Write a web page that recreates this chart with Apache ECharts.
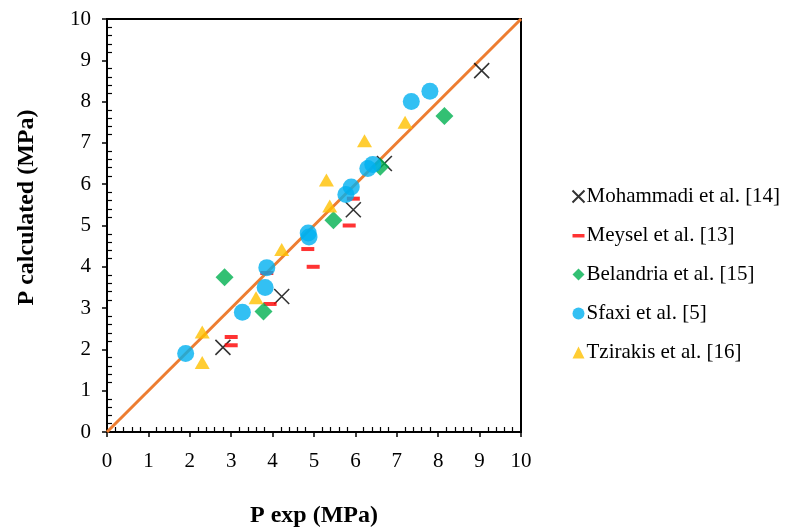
<!DOCTYPE html>
<html lang="en">
<head>
  <meta charset="UTF-8">
  <title>P calculated vs P exp</title>
  <script src="https://cdn.jsdelivr.net/npm/echarts@6.0.0/dist/echarts.min.js"></script>
  <style>
    html, body { margin: 0; padding: 0; background: #fff; }
    #chart { width: 794px; height: 528px; }
  </style>
</head>
<body>
  <div id="chart"></div>
  <script>
    // values: [P exp, P calculated]
    const mohammadi = [[2.8, 2.05], [4.22, 3.28], [5.95, 5.38], [6.7, 6.5], [9.05, 8.75]];
    const meysel = [[3.0, 2.3], [3.0, 2.1], [3.94, 3.1], [3.86, 3.85], [4.85, 4.43], [4.98, 4.0], [5.85, 5.0], [5.95, 5.65]];
    const belandria = [[2.84, 3.75], [3.78, 2.92], [5.47, 5.13], [6.6, 6.42], [8.15, 7.65]];
    const sfaxi = [[1.9, 1.9], [3.27, 2.9], [3.82, 3.5], [3.86, 3.98], [4.86, 4.82], [4.88, 4.72], [5.77, 5.75],
      [5.9, 5.93], [6.3, 6.38], [6.42, 6.48], [7.35, 8.0], [7.8, 8.25]];
    const tzirakis = [[2.3, 2.42], [2.3, 1.68], [3.6, 3.25], [4.22, 4.42], [5.38, 5.47], [5.3, 6.1], [6.22, 7.05], [7.2, 7.5]];
    const parityLine = [[0, 0], [10, 10]];

    const font = "'Liberation Serif', 'Times New Roman', serif";
    const crossPath = 'path://M0,0L10,10M10,0L0,10';
    // thin dash inside a square box so the legend icon is not stretched
    const dashIcon = 'path://M0,0M0,12M0,4.5h12v3.5h-12z';

    const axisCommon = {
      min: 0,
      max: 10,
      interval: 1,
      nameLocation: 'middle',
      nameTextStyle: { fontFamily: font, fontSize: 24, fontWeight: 'bold', color: '#000' },
      axisLine: { onZero: false, lineStyle: { color: '#000', width: 2 } },
      axisTick: { show: true, inside: false, length: 5, lineStyle: { color: '#000', width: 1.5 } },
      minorTick: { show: true, splitNumber: 5, length: -5, lineStyle: { color: '#000', width: 1.2 } },
      axisLabel: { fontFamily: font, fontSize: 21, color: '#000', margin: 19 },
      splitLine: { show: false }
    };

    const chart = echarts.init(document.getElementById('chart'));
    chart.setOption({
      animation: false,
      backgroundColor: '#fff',
      grid: {
        left: 107, right: 273, top: 19, bottom: 96,
        outerBoundsMode: 'none',
        show: true, borderColor: '#000', borderWidth: 2
      },
      legend: {
        orient: 'vertical',
        left: 565,
        top: 181,
        itemWidth: 12,
        itemHeight: 12,
        itemGap: 18,
        textStyle: { fontFamily: font, fontSize: 21, color: '#000', padding: [0, 0, 0, -3] },
        data: [
          'Mohammadi et al. [14]',
          { name: 'Meysel et al. [13]', icon: dashIcon },
          'Belandria et al. [15]',
          'Sfaxi et al. [5]',
          'Tzirakis et al. [16]'
        ]
      },
      xAxis: Object.assign({}, axisCommon, {
        type: 'value',
        name: 'P exp (MPa)',
        nameGap: 72
      }),
      yAxis: Object.assign({}, axisCommon, {
        type: 'value',
        name: 'P calculated (MPa)',
        nameGap: 68,
        axisLabel: Object.assign({}, axisCommon.axisLabel, { margin: 16 }),
        nameTextStyle: Object.assign({}, axisCommon.nameTextStyle, { padding: [0, 0, 0, 36] })
      }),
      series: [
        {
          type: 'line',
          data: parityLine,
          symbol: 'none',
          lineStyle: { color: '#ED7D31', width: 3 },
          silent: true,
          z: 1
        },
        {
          name: 'Mohammadi et al. [14]',
          type: 'scatter',
          data: mohammadi,
          symbol: crossPath,
          symbolSize: 15,
          itemStyle: { color: 'none', borderColor: '#000', borderWidth: 1.6 }
        },
        {
          name: 'Meysel et al. [13]',
          type: 'scatter',
          data: meysel,
          symbol: 'rect',
          symbolSize: [13, 4],
          itemStyle: { color: '#FF0000' }
        },
        {
          name: 'Belandria et al. [15]',
          type: 'scatter',
          data: belandria,
          symbol: 'diamond',
          symbolSize: [18, 18],
          itemStyle: { color: '#00B050' }
        },
        {
          name: 'Sfaxi et al. [5]',
          type: 'scatter',
          data: sfaxi,
          symbol: 'circle',
          symbolSize: 17,
          itemStyle: { color: '#00B0F0' }
        },
        {
          name: 'Tzirakis et al. [16]',
          type: 'scatter',
          data: tzirakis,
          symbol: 'triangle',
          symbolSize: [15, 13],
          itemStyle: { color: '#FFC000' }
        }
      ]
    });
  </script>
</body>
</html>
